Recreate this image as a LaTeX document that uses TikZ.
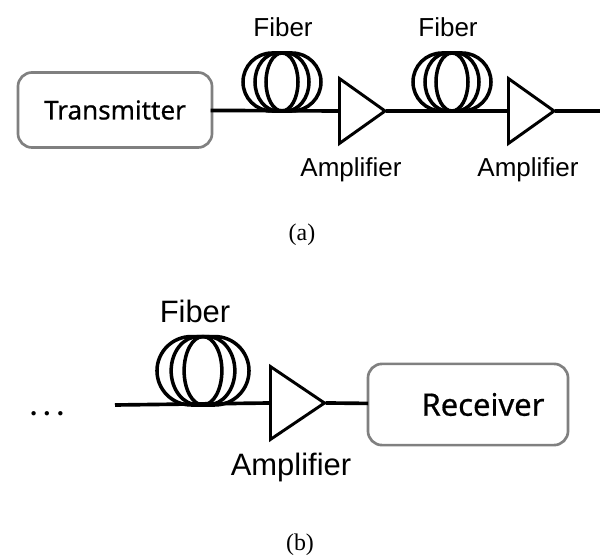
\documentclass[tikz,border=0pt]{standalone}
\usepackage{fontspec}
\setmainfont{Liberation Sans}
\newfontfamily\capfont{Liberation Serif}
\newfontfamily\boxfont[FakeBold=0.6]{Noto Sans}
\usetikzlibrary{shapes.geometric,positioning}
\definecolor{boxgray}{rgb}{0.5,0.5,0.5}
\tikzset{
  pics/fibercoil/.style={code={
    \foreach \ra/\cx in {29/10,23/4,16/0}{
      \draw[line width=2.5pt] (-\cx,0) arc[start angle=270,end angle=90,x radius=\ra,y radius=29]
        -- (\cx,58) arc[start angle=90,end angle=-90,x radius=\ra,y radius=29] -- cycle;
    }
  }}
}
\begin{document}
\begin{tikzpicture}[x=0.025cm,y=0.025cm,
    block/.style={rectangle, draw=boxgray, line width=1.9pt, rounded corners=10pt,
                  align=center, inner sep=0pt, font=\boxfont\fontsize{18.5}{20}\selectfont},
    amp/.style={isosceles triangle, isosceles triangle stretches, draw=black, line width=2.1pt,
                inner sep=0pt, anchor=lower side, minimum height=1.14cm, minimum width=1.62cm},
    fib/.style={line width=2.6pt, shorten <=-2pt, shorten >=-1pt},
    lab/.style={font=\fontsize{18.5}{20}\selectfont},
    labbig/.style={font=\fontsize{22}{24}\selectfont},
    captext/.style={font=\capfont\fontsize{17}{20}\selectfont}
]
    \useasboundingbox (0,0) rectangle (600,560);
    % (a)
    \node[block, minimum width=4.85cm, minimum height=1.875cm] (tx) at (115,450) {Transmitter};
    \node[amp] (ampa) at (338,449) {};
    \node[amp] (ampb) at (507,449) {};
    \coordinate (enda) at (600,449);
    \draw[fib] (tx) -- (ampa.lower side);
    \draw[fib] (ampa.apex) -- (ampb.lower side);
    \draw[fib] (ampb.apex) -- (enda);
    \pic at (282,449) {fibercoil};
    \pic at (452,449) {fibercoil};
    \node[lab] (fibera) at (283,533) {Fiber};
    \node[lab] (fiberb) at (448,533) {Fiber};
    \node[lab] (ampla) at (351,390) {Amplifier};
    \node[lab] (amplb) at (528,390) {Amplifier};
    \node[captext] (capa) at (302,325) {(a)};
    % (b)
    \node[block, font=\boxfont\fontsize{22}{24}\selectfont, minimum width=5cm, minimum height=2.03cm] (rx) at (468,155.5) {\hspace*{0.75cm}Receiver};
    \node[amp, minimum height=1.35cm, minimum width=1.82cm] (ampc) at (269,157) {};
    \coordinate (startb) at (115,155);
    \draw[fib, shorten <=0pt] (startb) -- (ampc.lower side);
    \draw[fib] (ampc.apex) -- (rx);
    \pic[scale=1.18] at (203,155) {fibercoil};
    \node[labbig] (fiberc) at (195,249) {Fiber};
    \node[labbig] (amplc) at (291,92) {Amplifier};
    \node[font=\capfont\bfseries\frenchspacing\fontsize{19}{24}\selectfont] (dots) at (47,146) {. . .};
    \node[captext] (capb) at (300,15) {(b)};
\end{tikzpicture}
\end{document}
